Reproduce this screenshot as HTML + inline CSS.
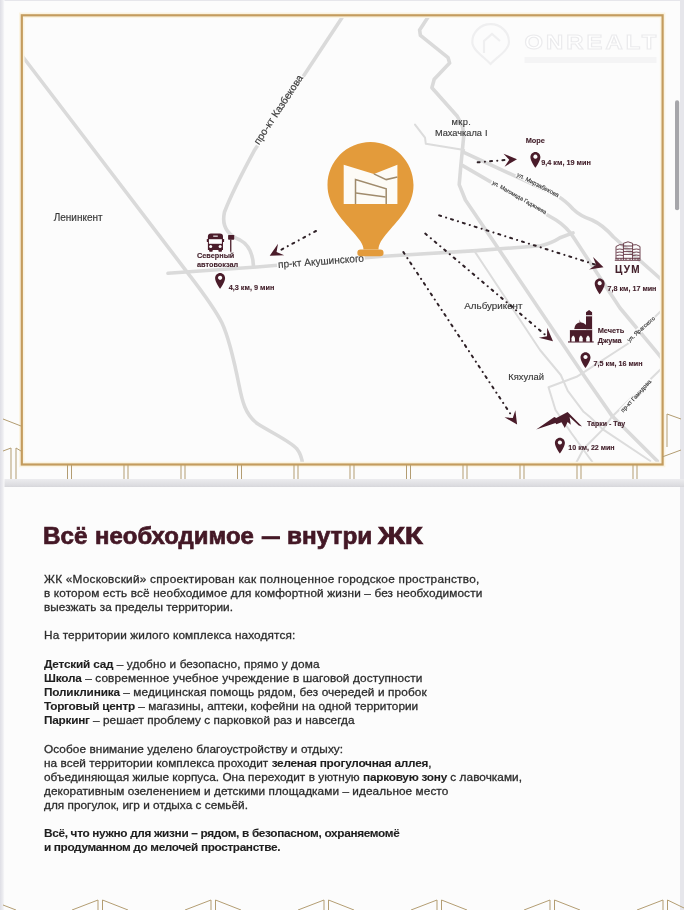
<!DOCTYPE html>
<html><head><meta charset="utf-8">
<style>
*{margin:0;padding:0;box-sizing:border-box}
html,body{width:684px;height:910px;overflow:hidden;background:#e6e6eb}
#sep{position:absolute;left:0;top:479px;width:684px;height:8px;background:linear-gradient(#ececef,#dcdce0 80%,#d6d6da)}
body{position:relative;font-family:"Liberation Sans",sans-serif}
#wrap{position:absolute;left:0;top:0;width:684px;height:910px;will-change:transform}
#p1{position:absolute;left:4px;top:1px;width:676px;height:478px;background:#fcfcfc}
#p2{position:absolute;left:4px;top:487px;width:676px;height:423px;background:#fcfcfc}
svg{position:absolute;left:0;top:0}
.t{position:absolute;white-space:nowrap;font-size:11.8px;color:#2c2c2c;letter-spacing:var(--ls);-webkit-text-stroke:0.3px #2c2c2c}
.t b{font-weight:bold;color:#1e1e1e;-webkit-text-stroke:0.1px #1e1e1e;letter-spacing:calc(var(--ls) - 0.3px)}
#h1 .hw{position:absolute;top:522px;font-size:24px;font-weight:bold;color:#441826;white-space:nowrap;-webkit-text-stroke:0.7px #441826;transform-origin:0 0}
.lb{position:absolute;white-space:nowrap;font-size:10px;color:#383838;-webkit-text-stroke:0.15px #383838}
.rl{background:#fcfcfc;line-height:1.05;padding:0 1px}
.mr{position:absolute;white-space:nowrap;font-weight:bold;color:#43202b;-webkit-text-stroke:0.1px #43202b}
</style></head><body><div id="wrap">
<div id="p1"></div>
<div id="p2"></div>
<div id="sep"></div>
<svg width="684" height="910" viewBox="0 0 684 910">
<defs>
  <path id="pin" d="M5,0 C2.2,0 0,2.3 0,5.2 C0,8.8 5,15.8 5,15.8 C5,15.8 10,8.8 10,5.2 C10,2.3 7.8,0 5,0 Z M5,2.6 A2.1,2.1 0 1 0 5.01,2.6 Z"/>
  <path id="ah" d="M0,0 L-13,-6.5 L-7.8,0 L-13,6.5 Z"/>
  <linearGradient id="lg" x1="0" x2="1" y1="0" y2="0">
    <stop offset="0" stop-color="#dedee5"/><stop offset="0.6" stop-color="#ececf0"/><stop offset="1" stop-color="#fafafb"/>
  </linearGradient>
</defs>
<!-- left/right strips -->
<rect x="0" y="0" width="4.5" height="910" fill="url(#lg)"/>
<!-- scrollbar -->
<rect x="675" y="100.3" width="4.2" height="110" rx="2.1" fill="#a6a6aa"/>
<!-- roads -->
<g fill="none" stroke="#dadada" stroke-width="3.6" stroke-linejoin="round" stroke-linecap="round">
  <path d="M23,57 L189,274.6 C200,289 214,307 222,323 C229,338 234,360 239,385 C242,400 245,415 258,424 C272,433 290,441 297,449 C300,453 302,458 302.5,464"/>
  <path d="M341.8,17.9 L254.8,149.7 Q233,190 224.5,212 Q220,232 240,240 Q253,247 253.5,267"/>
  <path d="M428.1,16.9 L419.6,30 L420.4,35.4 L448.1,57.7 L449.6,63.1 L434.2,79.2 L431.9,87.7 L457.3,116.2 L462.7,126.9 L463.8,135.4 L460.8,166 L459.2,184.6 L465.4,200 L494.6,243 L583.6,375 L611.7,415.4 L657.3,461"/>
  <path d="M463.8,152.3 L556,195 Q566,201 573,209 Q580,216 592,220 Q603,225 613.5,237 L663,281"/>
  <path d="M462.3,165.4 L556,220 Q567,227 574,238 L595,270 L620,308 L658,353.6 L663,360"/>
  <path d="M168,273.3 L253,267.3 L380,256.5 L476.5,250.6 L540.8,245.7 Q552,243 560,237.7 L573,232.9"/>
</g>
<g fill="none" stroke="#dcdcdc" stroke-width="2" stroke-linejoin="round" stroke-linecap="round">
  <path d="M415,124.6 L425,137.7 L425.8,143.8 L464.2,150"/>
  <path d="M474,250.4 L540,350 L560.8,375 L567.8,390.8 L583.6,411.8 L590,417 L602.9,429.4 L650.3,461"/>
  <path d="M663,309 L627.5,344 L576.6,376.8 L548.5,387.3 L555.5,410 L571.3,433 L592.4,462"/>
  <path d="M663,367 L611.7,417 L602.9,429.4 L583.6,448.7 L576.6,462"/>
</g>
<!-- border -->
<rect x="21.8" y="15.3" width="640.8" height="449.2" fill="none" stroke="#fbf4e2" stroke-width="5.5"/>
<rect x="21.8" y="15.3" width="640.8" height="449.2" fill="none" stroke="#c49c5e" stroke-width="2.2"/>
<!-- decorative gold lines -->
<g stroke="#b39d72" stroke-width="1" fill="none">
  <path d="M3,419 L21,426 M3,451 L11,448 L11,479 M16,448 L21,451 M16,448 L16,479"/>
  <path d="M667,447 L667,414 L681,419 M662,457 L681,450"/>
  <path d="M67.5,465 V479 M71.5,465 V479 M124,465 V479 M128,465 V479 M181,465 V479 M185,465 V479 M237.5,465 V479 M241.5,465 V479 M294,465 V479 M298,465 V479 M350,465 V479 M354,465 V479 M406.5,465 V479 M410.5,465 V479 M463,465 V479 M467,465 V479 M520,465 V479 M524,465 V479 M577,465 V479 M581,465 V479 M633,465 V479 M637,465 V479"/>
  <path d="M3,905 L16,910 M98,900 L72,910 M98,900 V910 M102.5,900 L128,910 M102.5,900 V910 M211,900 L185,910 M211,900 V910 M215.5,900 L241,910 M215.5,900 V910 M324,900 L298,910 M324,900 V910 M328.5,900 L354,910 M328.5,900 V910 M437,900 L411,910 M437,900 V910 M441.5,900 L467,910 M441.5,900 V910 M550,900 L524,910 M550,900 V910 M554.5,900 L580,910 M554.5,900 V910 M663,900 L637,910 M663,900 V910 M667.5,900 L684,908 M667.5,900 V910"/>
</g>
<!-- arrows -->
<g stroke="#2e2026" stroke-width="2" fill="none" stroke-dasharray="2 5.2 0.1 5.1" stroke-linecap="round">
  <path d="M316,231 L277,252"/>
  <path d="M477.7,162.3 L508,159.8"/>
  <path d="M439.2,215.4 L595,264.5"/>
  <path d="M425.3,233.6 L546,335.5"/>
  <path d="M403.4,252.1 L512.5,417"/>
</g>
<g fill="#4a1c2a">
  <use href="#ah" transform="translate(269.7,255.7) rotate(151.5)"/>
  <use href="#ah" transform="translate(517,159.2) rotate(-4.5)"/>
  <use href="#ah" transform="translate(603.5,267.2) rotate(17.5)"/>
  <use href="#ah" transform="translate(553,341.2) rotate(40)"/>
  <use href="#ah" transform="translate(517.1,424.6) rotate(56.5)"/>
</g>
<!-- pins -->
<g fill="#4a1c2a" fill-rule="evenodd">
  <use href="#pin" transform="translate(215.1,273.1)"/>
  <use href="#pin" transform="translate(530.4,152)"/>
  <use href="#pin" transform="translate(594.7,278.5)"/>
  <use href="#pin" transform="translate(580.5,352.3)"/>
  <use href="#pin" transform="translate(554.9,437.8)"/>
</g>
<!-- bus -->
<g fill="#4a1c2a">
  <path d="M207.9,250 V236.5 Q207.9,233.6 211,233.6 H219.9 Q223,233.6 223,236.5 V250 Z"/>
  <rect x="206.8" y="239" width="1.4" height="3" rx="0.5"/>
  <rect x="222.7" y="239" width="1.4" height="3" rx="0.5"/>
  <rect x="209.1" y="249.5" width="3.6" height="2.2" rx="0.8"/>
  <rect x="218.4" y="249.5" width="3.6" height="2.2" rx="0.8"/>
  <rect x="228.1" y="234.9" width="6.1" height="4.8" rx="0.6"/>
  <rect x="230.1" y="239.5" width="1.3" height="12.3"/>
</g>
<g fill="#fcfcfc">
  <rect x="208.9" y="239.2" width="13" height="4.6"/>
  <rect x="213.2" y="235.6" width="4.6" height="1.1"/>
  <circle cx="210.7" cy="246.4" r="1.5"/>
  <circle cx="220.1" cy="246.4" r="1.5"/>
</g>
<!-- ЦУМ building -->
<g fill="none" stroke="#5e2e3c" stroke-width="0.9">
  <path d="M614.8,260.3 H640.4"/>
  <path d="M623.4,260 V243.3 Q628,240.3 632.6,243.3 V260"/>
  <path d="M623.4,246 H632.6 M623.4,248.8 H632.6 M623.4,251.6 H632.6 M623.4,254.4 H632.6"/>
  <path d="M616,259.8 V246.5 Q619.7,243.6 623.4,245 M632.6,245 Q636.3,243.6 640,246.5 V259.8"/>
  <path d="M616.5,249.5 q3.4,-1 6.4,0 M616.5,252.5 q3.4,-1 6.4,0 M616.5,255.5 q3.4,-1 6.4,0 M633.1,249.5 q3.4,-1 6.4,0 M633.1,252.5 q3.4,-1 6.4,0 M633.1,255.5 q3.4,-1 6.4,0"/>
  <path d="M615.5,258.3 H640 M618,258.3 V260 M621,258.3 V260 M626,258.3 V260 M630,258.3 V260 M635,258.3 V260 M638,258.3 V260"/>
</g>
<!-- mosque -->
<g fill="#4a1c2a">
  <path d="M569.9,341.8 V330 H592.1 V341.8 Z"/>
  <path d="M574.2,329.2 Q574.5,323 580.4,322.2 Q587.2,323 587.5,329.2 Z"/>
  <path d="M579.3,319.5 L580.6,322.6 L579.8,322.6 Z"/>
  <path d="M586,341.8 V312.2 L589.05,309.9 L592.1,312.2 V341.8 Z"/>
  <rect x="568" y="341.4" width="25.7" height="1.1"/>
</g>
<g fill="#fcfcfc">
  <path d="M571.5,341.5 V338.3 Q571.7,336.5 573.2,335.6 Q574.8,336.5 575,338.3 V341.5 Z"/>
  <path d="M579.1,341.5 V338.3 Q579.3,336.5 580.9,335.6 Q582.5,336.5 582.7,338.3 V341.5 Z"/>
  <path d="M586.2,341.5 V338.3 Q586.4,336.5 588,335.6 Q589.6,336.5 589.8,338.3 V341.5 Z"/>
  <rect x="586" y="315.2" width="6.1" height="1.1"/>
  <rect x="569.9" y="329.3" width="22.2" height="0.8"/>
</g>
<!-- mountain -->
<path d="M536.2,429.5 L554.3,416.9 L556.3,417.9 L567.6,412.1 L582,426.5 L578.8,425.5 L569.6,417.1 L570.8,424.7 L567.6,421.9 L564.8,427.9 L561.5,422.3 L556.3,424.3 L555.5,423.1 Z" fill="#4a1c2a"/>
<!-- watermark -->
<g fill="none" stroke="#efeff0" stroke-width="2.2">
  <path d="M490.6,64 C484,57 472.3,50 472.3,42 C472.3,32 480.5,24.2 490.6,24.2 C500.7,24.2 509,32 509,42 C509,50 497,57 490.6,64 Z"/>
  <path d="M484,53 V41 L492,34 L500,41"/>
</g>
<text x="0" y="0" transform="translate(524.5,48.8) scale(1.22,1)" font-family="Liberation Sans" font-weight="bold" font-size="19.5" textLength="108" lengthAdjust="spacing" fill="#ffffff" stroke="#ebebed" stroke-width="1">ONREALT</text>
<rect x="524.5" y="57" width="132" height="6" fill="#f4f4f5"/>
</svg>

<!-- map labels -->
<div class="lb rl" style="left:320.5px;top:261.5px;transform:translate(-50%,-50%) rotate(-4.3deg);font-size:10.1px">пр-кт Акушинского</div>
<div class="lb rl" style="left:278.9px;top:109.5px;transform:translate(-50%,-50%) rotate(-56.6deg);font-size:10.2px">про-кт Казбекова</div>
<div class="lb rl" style="left:537.5px;top:185.3px;transform:translate(-50%,-50%) rotate(27.4deg);font-size:6.0px">ул. Мирзабекова</div>
<div class="lb rl" style="left:519.1px;top:197.5px;transform:translate(-50%,-50%) rotate(29.7deg);font-size:5.6px">ул. Магомеда Гаджиева</div>
<div class="lb rl" style="left:640.5px;top:329.1px;transform:translate(-50%,-50%) rotate(-41.7deg);font-size:5.7px">ул. Ярагского</div>
<div class="lb rl" style="left:636.2px;top:395.6px;transform:translate(-50%,-50%) rotate(-47.5deg);font-size:5.85px">пр-кт Гамидова</div>
<div class="lb" style="left:53.7px;top:212px;font-size:10px">Ленинкент</div>
<div class="lb" style="left:451.5px;top:117px;font-size:9.3px;letter-spacing:0.35px">мкр.</div>
<div class="lb" style="left:435px;top:128px;font-size:9.2px;letter-spacing:0px;word-spacing:0.5px">Махачкала I</div>
<div class="lb" style="left:464.3px;top:300px;font-size:9.8px">Альбурикент</div>
<div class="lb" style="left:508.3px;top:370.5px;font-size:9.4px">Кяхулай</div>
<div class="mr" style="left:197px;top:250.7px;font-size:7.3px">Северный</div>
<div class="mr" style="left:197px;top:260px;font-size:7.3px">автовокзал</div>
<div class="mr" style="left:228.7px;top:282.7px;font-size:7.3px">4,3 км, 9 мин</div>
<div class="mr" style="left:525.7px;top:135.8px;font-size:7.4px">Море</div>
<div class="mr" style="left:541.2px;top:157.6px;font-size:7.3px">9,4 км, 19 мин</div>
<div class="mr" style="left:615px;top:264.3px;font-size:10px;letter-spacing:1.4px">ЦУМ</div>
<div class="mr" style="left:607.5px;top:284.1px;font-size:7.2px">7,8 км, 17 мин</div>
<div class="mr" style="left:597.7px;top:326.4px;font-size:7.4px">Мечеть</div>
<div class="mr" style="left:597.7px;top:335.6px;font-size:7.4px">Джума</div>
<div class="mr" style="left:593.6px;top:359px;font-size:7.2px">7,5 км, 16 мин</div>
<div class="mr" style="left:587px;top:419.6px;font-size:7px">Тарки - Тау</div>
<div class="mr" style="left:568.3px;top:443.7px;font-size:7.1px">10 км, 22 мин</div>

<svg width="684" height="910" viewBox="0 0 684 910" style="position:absolute;left:0;top:0">
<!-- big pin -->
<path d="M370.5,142 C394.2,142 413.5,161.3 413.5,185 C413.5,205 400,218 388,232 C382,239 378.5,244 378.5,249.5 L363.5,249.5 C363.5,244 359,239 353,232 C341,218 327.5,205 327.5,185 C327.5,161.3 346.8,142 370.5,142 Z" fill="#e39b3b"/>
<rect x="357.3" y="249.5" width="26.3" height="6.8" rx="3.4" fill="#e39b3b"/>
<path d="M343.7,164.7 L373.9,173.9 L397.4,164.7 L397.4,204.1 L343.7,204.1 Z" fill="#fdfbf6"/>
<g stroke="#a08b6c" stroke-width="1.5" fill="none">
  <path d="M373.9,173.9 L386.2,179.6 L397.4,177"/>
  <path d="M355.5,204 L355.5,179.6 L386.2,188.8 L386.2,204"/>
  <path d="M356,192.9 L385.6,197"/>
</g>
</svg>
<div id="h1"><span class="hw" style="left:43.48px;transform:scaleX(1.0095)">Всё</span><span class="hw" style="left:95.40px;transform:scaleX(0.9975)">необходимое</span><span class="hw" style="left:260.73px;transform:scaleX(1.4667)">–</span><span class="hw" style="left:287.19px;transform:scaleX(1.0146)">внутри</span><span class="hw" style="left:377.88px;transform:scaleX(1.2389)">ЖК</span></div>
<div class="t" style="left:44px;top:572px;--ls:0.249px">ЖК «Московский» спроектирован как полноценное городское пространство,</div>
<div class="t" style="left:44px;top:586px;--ls:0.135px">в котором есть всё необходимое для комфортной жизни – без необходимости</div>
<div class="t" style="left:44px;top:600px;--ls:0.031px">выезжать за пределы территории.</div>
<div class="t" style="left:44px;top:628px;--ls:0.110px">На территории жилого комплекса находятся:</div>
<div class="t" style="left:44px;top:657px;--ls:0.100px"><b>Детский сад</b> – удобно и безопасно, прямо у дома</div>
<div class="t" style="left:44px;top:671px;--ls:0.133px"><b>Школа</b> – современное учебное учреждение в шаговой доступности</div>
<div class="t" style="left:44px;top:685px;--ls:0.124px"><b>Поликлиника</b> – медицинская помощь рядом, без очередей и пробок</div>
<div class="t" style="left:44px;top:699px;--ls:0.036px"><b>Торговый центр</b> – магазины, аптеки, кофейни на одной территории</div>
<div class="t" style="left:44px;top:713px;--ls:0.049px"><b>Паркинг</b> – решает проблему с парковкой раз и навсегда</div>
<div class="t" style="left:44px;top:742px;--ls:0.080px">Особое внимание уделено благоустройству и отдыху:</div>
<div class="t" style="left:44px;top:756px;--ls:0.053px">на всей территории комплекса проходит <b>зеленая прогулочная аллея</b>,</div>
<div class="t" style="left:44px;top:770px;--ls:0.049px">объединяющая жилые корпуса. Она переходит в уютную <b>парковую зону</b> с лавочками,</div>
<div class="t" style="left:44px;top:784px;--ls:0.069px">декоративным озеленением и детскими площадками – идеальное место</div>
<div class="t" style="left:44px;top:798px;--ls:0.017px">для прогулок, игр и отдыха с семьёй.</div>
<div class="t" style="left:44px;top:826px;--ls:-0.018px"><b>Всё, что нужно для жизни – рядом, в безопасном, охраняемомё</b></div>
<div class="t" style="left:44px;top:840px;--ls:-0.058px"><b>и продуманном до мелочей пространстве.</b></div>
</div></body></html>
